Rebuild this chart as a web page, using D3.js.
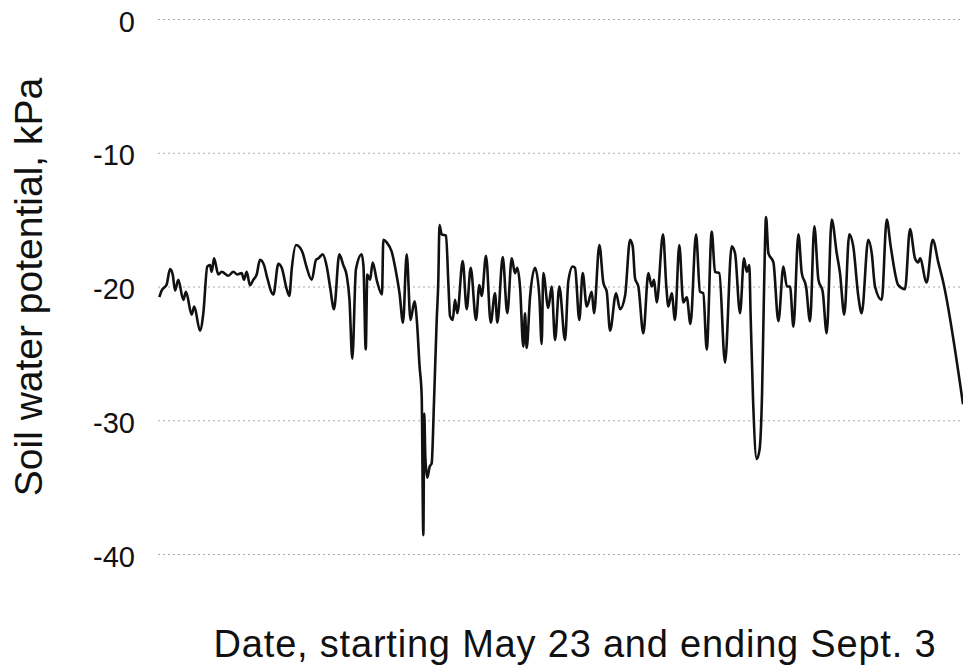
<!DOCTYPE html>
<meta charset="utf-8">
<style>
  body { margin: 0; background: #fff; }
  svg { display: block; font-family: "Liberation Sans", Arial, Helvetica, sans-serif; }
  .grid line { stroke: #a8a8a8; stroke-width: 1; stroke-dasharray: 2, 3; }
  .trace { fill: none; stroke: #111; stroke-width: 2.6; stroke-linejoin: round; }
</style>
<body>
  <svg id="chart"></svg>
  <script src="https://d3js.org/d3.v7.min.js"></script>
  <script>

    // days since May 23 (ends Sept. 3, day 103)
    var days = [0.17, 0.47, 1.11, 1.54, 1.88, 2.18, 2.60, 3.24, 3.58, 4.31,
      4.64, 5.37, 5.80, 6.31, 6.65, 6.87, 7.17, 7.72, 8.15, 9.00,
      9.64, 10.15, 10.71, 11.01, 11.35, 11.77, 12.20, 12.63, 13.05, 13.57,
      13.91, 14.76, 15.40, 15.83, 16.47, 16.81, 17.11, 17.66, 18.18, 18.52,
      18.94, 19.67, 20.22, 20.51, 21.08, 21.59, 22.01, 22.52, 23.20, 23.71,
      24.15, 24.50, 24.86, 25.33, 26.06, 26.29, 26.58, 26.78, 27.13, 27.47,
      27.98, 28.66, 28.83, 29.26, 29.90, 30.54, 30.90, 31.35, 31.82, 32.31,
      32.82, 33.14, 33.46, 33.74, 33.95, 34.07, 34.20, 34.46, 34.74, 35.02,
      35.31, 35.66, 35.86, 36.02, 36.30, 36.85, 37.17, 37.36, 37.71, 38.00,
      38.30, 38.99, 39.50, 40.01, 40.69, 41.11, 41.42, 41.97, 42.57, 43.12,
      43.42, 44.11, 44.69, 45.26, 45.68, 45.97, 46.32, 46.74, 46.96, 47.17,
      47.60, 48.24, 48.79, 49.09, 49.30, 49.94, 50.37, 50.80, 51.35, 52.08,
      52.50, 53.06, 53.36, 53.91, 54.34, 54.86, 55.50, 55.79, 56.47, 56.98,
      57.42, 57.84, 58.61, 59.12, 59.76, 60.40, 60.74, 61.04, 61.46, 62.10,
      62.74, 63.17, 63.47, 63.81, 64.62, 65.04, 65.30, 65.73, 66.15, 66.70,
      67.21, 67.65, 68.13, 68.84, 69.35, 69.77, 70.21, 70.85, 71.27, 71.82,
      72.55, 73.40, 73.83, 74.47, 74.98, 75.33, 75.66, 75.82, 76.14, 76.61,
      76.97, 77.29, 77.55, 77.80, 78.10, 78.74, 79.38, 80.02, 80.46, 80.87,
      81.30, 81.94, 82.37, 82.92, 83.43, 83.98, 84.50, 85.05, 85.56, 86.20,
      86.84, 87.26, 87.81, 88.45, 88.96, 89.60, 90.04, 90.88, 91.32, 91.74,
      92.60, 93.24, 93.75, 94.72, 95.58, 96.22, 96.86, 97.28, 97.50, 98.35,
      99.12, 99.84, 100.48, 103.0];

    // soil water potential, kPa
    var kpa = [-20.8, -20.3, -19.85, -18.7, -19.1, -20.3, -19.5, -21.0, -20.4, -22.1,
      -21.5, -23.3, -22.0, -18.5, -18.4, -18.9, -17.9, -19.1, -18.9, -19.2,
      -18.9, -19.1, -19.0, -19.5, -18.9, -19.9, -19.5, -19.1, -18.0, -18.4,
      -19.2, -20.6, -18.3, -18.6, -20.2, -20.7, -18.7, -16.9, -17.1, -17.5,
      -18.4, -19.5, -18.0, -17.9, -17.6, -18.5, -20.0, -21.7, -17.6, -18.4,
      -19.2, -21.0, -25.4, -18.7, -17.6, -18.5, -24.7, -19.1, -19.5, -18.2,
      -19.5, -20.6, -16.5, -16.7, -17.4, -19.2, -20.5, -22.7, -17.6, -22.5,
      -21.1, -22.7, -25.9, -28.2, -38.6, -29.5, -32.7, -34.3, -33.5, -33.2,
      -28.7, -22.5, -19.7, -15.4, -16.1, -16.2, -20.0, -22.2, -22.5, -21.0,
      -22.0, -18.1, -21.7, -18.6, -22.5, -19.9, -20.7, -17.7, -22.7, -20.5,
      -22.7, -17.8, -22.0, -17.9, -19.0, -18.6, -20.0, -24.5, -22.0, -24.6,
      -20.8, -18.6, -20.7, -24.3, -19.0, -21.6, -20.0, -24.0, -20.0, -24.0,
      -19.6, -18.5, -18.6, -22.5, -19.0, -21.5, -20.4, -22.0, -16.9, -19.7,
      -20.4, -23.3, -20.5, -21.7, -20.7, -16.5, -17.0, -19.4, -20.0, -23.5,
      -19.0, -20.0, -19.5, -21.2, -16.1, -20.0, -21.5, -20.5, -22.5, -16.9,
      -21.2, -20.8, -22.8, -16.1, -20.4, -20.5, -24.7, -15.9, -18.9, -19.0,
      -25.7, -17.0, -17.5, -22.0, -17.9, -18.9, -18.4, -22.0, -28.5, -32.9,
      -32.2, -28.0, -20.0, -14.8, -17.5, -18.2, -22.6, -18.5, -20.0, -20.0,
      -23.0, -16.1, -19.0, -20.0, -22.6, -15.5, -19.5, -20.4, -23.5, -15.0,
      -17.5, -19.0, -22.1, -16.1, -17.0, -20.7, -22.0, -16.5, -17.5, -20.0,
      -21.0, -15.0, -17.0, -19.9, -20.2, -15.7, -17.9, -18.2, -17.9, -19.7,
      -16.5, -18.2, -19.7, -28.8];

    var yTicks = [0, -10, -20, -30, -40];

    var width = 963
    var height = 667

    var x = d3.scaleLinear()
      .domain([0, 103])
      .range([158, 963])

    var y = d3.scaleLinear()
      .domain([0, -40])
      .range([19, 554])

    var svg = d3.select('#chart')
      .attr('width', width)
      .attr('height', height)

    // dotted grid lines
    svg.append('g')
      .attr('class', 'grid')
      .selectAll('line')
      .data(yTicks)
      .enter().append('line')
      .attr('x1', x(0))
      .attr('x2', x(103))
      .attr('y1', d => y(d) + 0.5)
      .attr('y2', d => y(d) + 0.5)

    // tick labels
    svg.append('g')
      .selectAll('text')
      .data(yTicks)
      .enter().append('text')
      .attr('x', 135)
      .attr('y', d => y(d) + 5)
      .attr('text-anchor', 'end')
      .attr('dominant-baseline', 'middle')
      .attr('font-size', 29)
      .attr('fill', '#111')
      .text(d => d)

    var line = d3.line()
      .x(function (d, i) { return x(days[i]) })
      .y(function (d) { return y(d) })
      .curve(d3.curveMonotoneX)

    svg.append('path')
      .datum(kpa)
      .attr('class', 'trace')
      .attr('d', line)

    // axis titles
    svg.append('text')
      .attr('transform', 'translate(42,287) rotate(-90)')
      .attr('text-anchor', 'middle')
      .attr('font-size', 39)
      .attr('fill', '#111')
      .text('Soil water potential, kPa')

    svg.append('text')
      .attr('x', 575)
      .attr('y', 657)
      .attr('text-anchor', 'middle')
      .attr('font-size', 38)
      .attr('letter-spacing', 0.8)
      .attr('fill', '#111')
      .text('Date, starting May 23 and ending Sept. 3')

  </script>
</body>
